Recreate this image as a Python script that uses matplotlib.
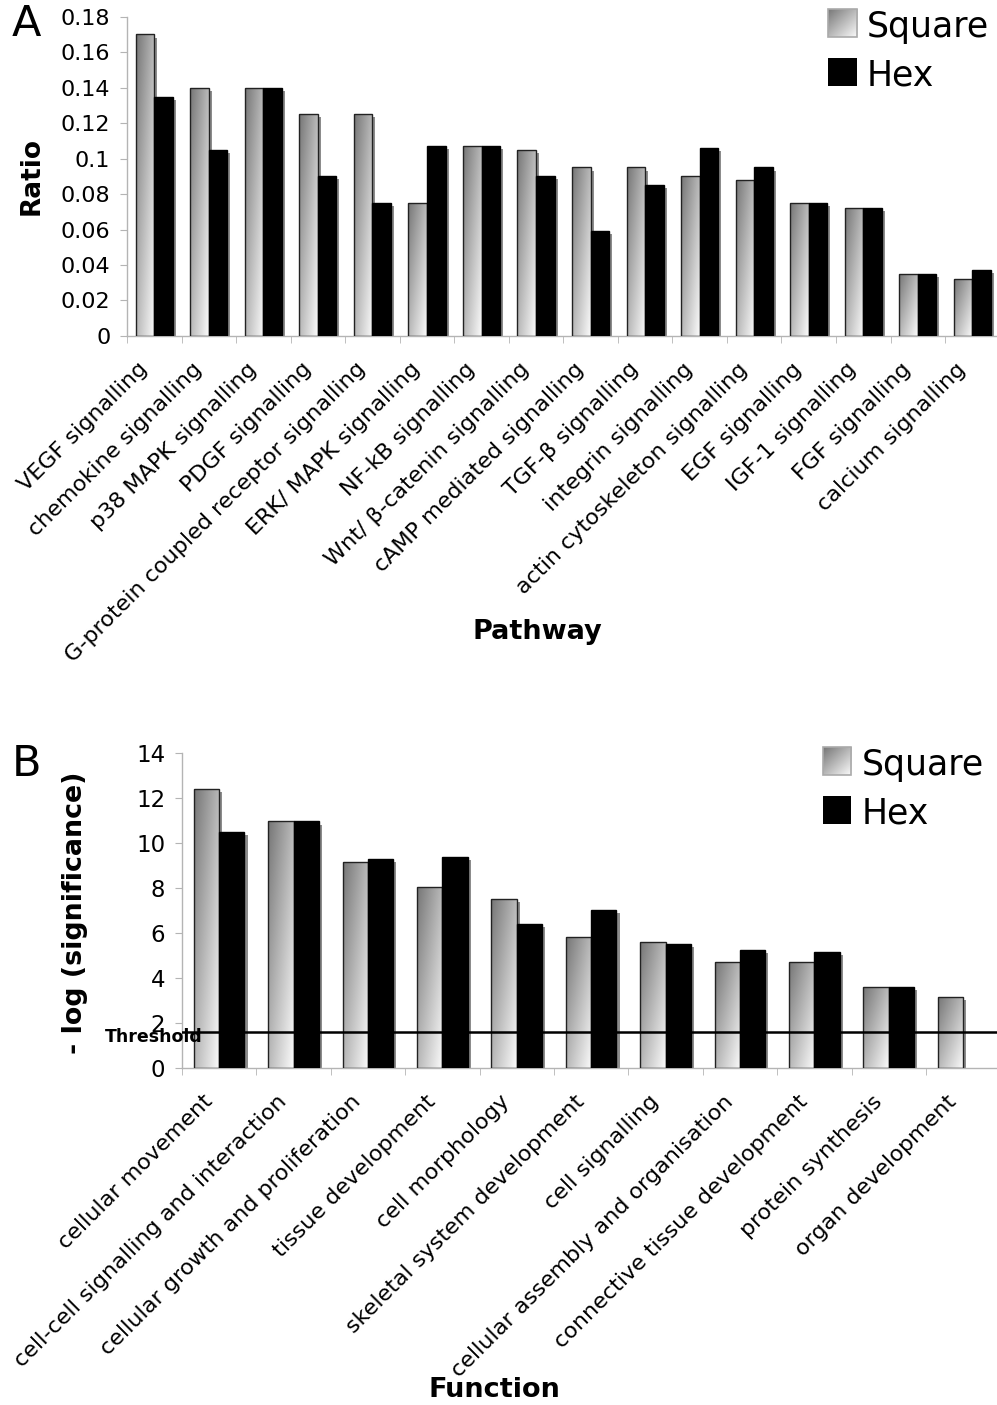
"""
Two stacked grouped bar charts (Square vs Hex):
  A - ratio of genes per signalling pathway
  B - -log(significance) per biological function, with threshold line
Writes out.png
"""

import numpy as np
import matplotlib
matplotlib.use("Agg")
import matplotlib.pyplot as plt
import matplotlib.patheffects as pe
from matplotlib.colors import LinearSegmentedColormap
from matplotlib.patches import Rectangle
from matplotlib.transforms import ScaledTranslation


# ---------------------------------------------------------------------
# Data
# ---------------------------------------------------------------------

pathways = [
    "VEGF signalling", "chemokine signalling", "p38 MAPK signalling",
    "PDGF signalling", "G-protein coupled receptor signalling",
    "ERK/ MAPK signalling", "NF-kB signalling", "Wnt/ β-catenin signalling",
    "cAMP mediated signalling", "TGF-β signalling", "integrin signalling",
    "actin cytoskeleton signalling", "EGF signalling", "IGF-1 signalling",
    "FGF signalling", "calcium signalling",
]
ratio_square = [0.170, 0.140, 0.140, 0.125, 0.125, 0.075, 0.107, 0.105,
                0.095, 0.095, 0.090, 0.088, 0.075, 0.072, 0.035, 0.032]
ratio_hex = [0.135, 0.105, 0.140, 0.090, 0.075, 0.107, 0.107, 0.090,
             0.059, 0.085, 0.106, 0.095, 0.075, 0.072, 0.035, 0.037]
ratio_ticks = [0, 0.02, 0.04, 0.06, 0.08, 0.1, 0.12, 0.14, 0.16, 0.18]
ratio_tick_labels = ["0", "0.02", "0.04", "0.06", "0.08", "0.1", "0.12",
                     "0.14", "0.16", "0.18"]

functions = [
    "cellular movement", "cell-cell signalling and interaction",
    "cellular growth and proliferation", "tissue development",
    "cell morphology", "skeletal system development", "cell signalling",
    "cellular assembly and organisation", "connective tissue development",
    "protein synthesis", "organ development",
]
sig_square = [12.4, 10.95, 9.15, 8.05, 7.5, 5.83, 5.6, 4.72, 4.72, 3.59, 3.15]
sig_hex = [10.5, 10.95, 9.29, 9.39, 6.39, 7.04, 5.5, 5.26, 5.16, 3.59, np.nan]
sig_ticks = [0, 2, 4, 6, 8, 10, 12, 14]
threshold = 1.6

# ---------------------------------------------------------------------
# Style
# ---------------------------------------------------------------------

FONT = "DejaVu Sans"
AXIS_GRAY = "#b4b4b4"
SHADOW_GRAY = "#8c8c8c"
GRAD_CMAP = LinearSegmentedColormap.from_list("sq", ["#767676", "#fbfbfb"])
BAR_W = 0.34

plt.rcParams["font.family"] = FONT


def gradient(nx=40, ny=200):
    u = np.linspace(0, 1, nx)[None, :]
    v = np.linspace(0, 1, ny)[:, None]
    return (u + v) / 2.0


def grouped_bars(ax, square, hexa):
    x = np.arange(len(square))
    sq = np.asarray(square, dtype=float)
    hx = np.asarray(hexa, dtype=float)
    hmask = ~np.isnan(hx)

    shadow = [pe.SimplePatchShadow(offset=(2.2, -2.2), shadow_rgbFace=SHADOW_GRAY, alpha=1.0)]
    ax.bar(x - BAR_W / 2, sq, BAR_W, color=SHADOW_GRAY, zorder=1, path_effects=shadow)
    ax.bar(x[hmask] + BAR_W / 2, hx[hmask], BAR_W, color=SHADOW_GRAY, zorder=1,
           path_effects=shadow)

    rects = ax.bar(x - BAR_W / 2, sq, BAR_W, facecolor="none", edgecolor="#222222",
                   linewidth=1.0, zorder=3)
    grad = gradient()
    for r in rects:
        x0, y0 = r.get_x(), r.get_y()
        im = ax.imshow(grad, extent=[x0, x0 + r.get_width(), y0, y0 + r.get_height()],
                       cmap=GRAD_CMAP, vmin=0, vmax=1, aspect="auto", origin="upper",
                       zorder=2, interpolation="bilinear")
        im.set_clip_path(r)

    ax.bar(x[hmask] + BAR_W / 2, hx[hmask], BAR_W, color="black", edgecolor="black",
           linewidth=1.0, zorder=4)


def style_axes(fig, ax, labels, yticks, ytick_labels, ylim, ytick_size):
    n = len(labels)
    ax.set_xlim(-0.5, n - 0.5)
    ax.set_ylim(*ylim)
    for s in ["top", "right"]:
        ax.spines[s].set_visible(False)
    for s in ["left", "bottom"]:
        ax.spines[s].set_color(AXIS_GRAY)
        ax.spines[s].set_linewidth(1.0)

    # category labels, rotated, end of text just below each category centre
    ax.set_xticks([])
    ax.set_xticks(np.arange(n + 1) - 0.5, minor=True)
    ax.tick_params(axis="x", which="minor", length=5, color=AXIS_GRAY, direction="out")
    offset = ScaledTranslation(-0.10, -0.30, fig.dpi_scale_trans)
    trans = ax.get_xaxis_transform() + offset
    for i, lab in enumerate(labels):
        ax.text(i, 0, lab, transform=trans, rotation=45, ha="right", va="center",
                rotation_mode="anchor", fontsize=16, clip_on=False)

    ax.set_yticks(yticks)
    ax.set_yticklabels(ytick_labels, fontsize=ytick_size)
    ax.tick_params(axis="y", length=5, color=AXIS_GRAY, direction="out", pad=7)


def legend_box(fig, rect, kind):
    lax = fig.add_axes(rect)
    lax.set_axis_off()
    if kind == "square":
        lax.imshow(gradient(40, 40), cmap=GRAD_CMAP, vmin=0, vmax=1, aspect="auto",
                   extent=[0, 1, 0, 1], origin="upper")
        lax.add_patch(Rectangle((0, 0), 1, 1, fill=False, edgecolor="#aaaaaa",
                                linewidth=1.2, transform=lax.transAxes, clip_on=False))
    else:
        lax.add_patch(Rectangle((0, 0), 1, 1, facecolor="black", edgecolor="black",
                                transform=lax.transAxes))
    lax.set_xlim(0, 1)
    lax.set_ylim(0, 1)


# ---------------------------------------------------------------------
# Figure
# ---------------------------------------------------------------------

fig = plt.figure(figsize=(9.97, 14.05), dpi=100)

# Panel A
ax_a = fig.add_axes([0.1274, 0.7609, 0.8752, 0.2272])
grouped_bars(ax_a, ratio_square, ratio_hex)
style_axes(fig, ax_a, pathways, ratio_ticks, ratio_tick_labels, (0, 0.18), 16)

fig.text(0.0321, 0.8747, "Ratio", rotation=90, fontsize=19, fontweight="bold",
         ha="center", va="center")
fig.text(0.5386, 0.5502, "Pathway", fontsize=19.5, fontweight="bold",
         ha="center", va="center")
fig.text(0.012, 0.9830, "A", fontsize=31, ha="left", va="center")

legend_box(fig, [0.8305, 0.97367, 0.02909, 0.01993], "square")
legend_box(fig, [0.8305, 0.93900, 0.02909, 0.01993], "hex")
fig.text(0.8693, 0.97367, "Square", fontsize=25, ha="left", va="baseline")
fig.text(0.8693, 0.93950, "Hex", fontsize=25, ha="left", va="baseline")

# Panel B
ax_b = fig.add_axes([0.1825, 0.23964, 0.8209, 0.22463])
grouped_bars(ax_b, sig_square, sig_hex)
style_axes(fig, ax_b, functions, sig_ticks, [str(t) for t in sig_ticks], (0, 14), 16.5)
ax_b.axhline(threshold, color="black", linewidth=1.8, zorder=5)

fig.text(0.1053, 0.25857, "Threshold", fontsize=12.5, fontweight="bold",
         ha="left", va="baseline", zorder=6)
fig.text(0.0752, 0.3502, "- log (significance)", rotation=90, fontsize=19.4,
         fontweight="bold", ha="center", va="center")
fig.text(0.4955, 0.0107, "Function", fontsize=19.5, fontweight="bold",
         ha="center", va="center")
fig.text(0.012, 0.4562, "B", fontsize=31, ha="left", va="center")

legend_box(fig, [0.8252, 0.44840, 0.02839, 0.01972], "square")
legend_box(fig, [0.8252, 0.41352, 0.02839, 0.01972], "hex")
fig.text(0.8643, 0.4484, "Square", fontsize=25, ha="left", va="baseline")
fig.text(0.8643, 0.4140, "Hex", fontsize=25, ha="left", va="baseline")

fig.savefig("out.png", dpi=100)
